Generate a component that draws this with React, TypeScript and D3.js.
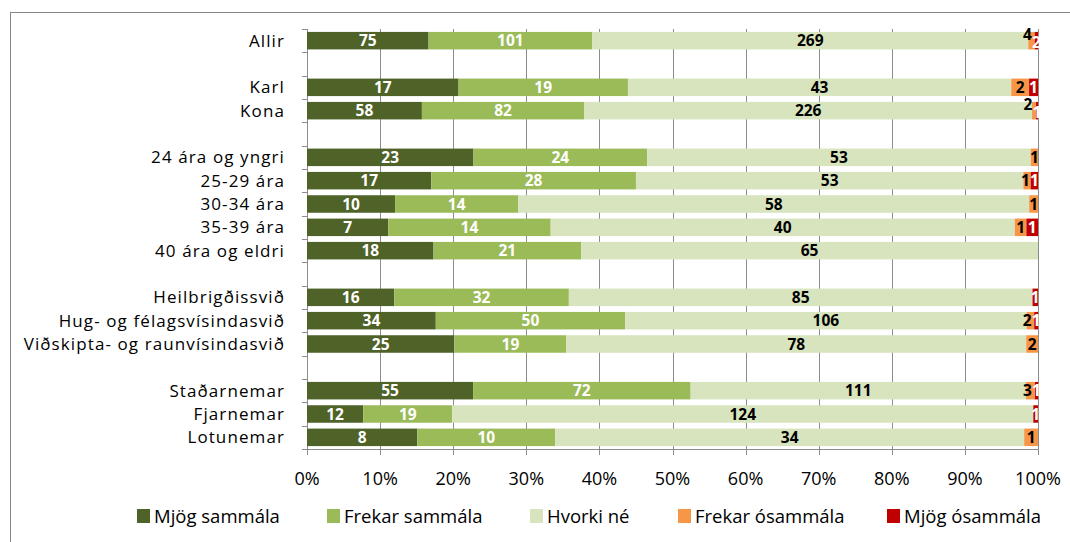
import React from 'react'
import * as d3 from 'd3'

const width = 1070
const height = 542

const categories = ['Allir', '', 'Karl', 'Kona', '', '24 ára og yngri', '25-29 ára', '30-34 ára', '35-39 ára', '40 ára og eldri', '', 'Heilbrigðissvið', 'Hug- og félagsvísindasvið', 'Viðskipta- og raunvísindasvið', '', 'Staðarnemar', 'Fjarnemar', 'Lotunemar']
const seriesNames = ['Mjög sammála', 'Frekar sammála', 'Hvorki né', 'Frekar ósammála', 'Mjög ósammála']
const mjogSammala = [75, 0, 17, 58, 0, 23, 17, 10, 7, 18, 0, 16, 34, 25, 0, 55, 12, 8]
const frekarSammala = [101, 0, 19, 82, 0, 24, 28, 14, 14, 21, 0, 32, 50, 19, 0, 72, 19, 10]
const hvorkiNe = [269, 0, 43, 226, 0, 53, 53, 58, 40, 65, 0, 85, 106, 78, 0, 111, 124, 34]
const frekarOsammala = [4, 0, 2, 2, 0, 1, 1, 1, 1, 0, 0, 0, 2, 2, 0, 3, 0, 1]
const mjogOsammala = [2, 0, 1, 1, 0, 0, 1, 0, 1, 0, 0, 1, 1, 0, 0, 1, 1, 0]
const tickLabels = ['0%', '10%', '20%', '30%', '40%', '50%', '60%', '70%', '80%', '90%', '100%']

const colors = ['#4f6228', '#9bbb59', '#d7e4bd', '#f79646', '#c00000']
const labelColors = ['#ffffff', '#ffffff', '#000000', '#000000', '#ffffff']
const font = '"Open Sans", Calibri, sans-serif'
const gridColor = '#8c8c8c'

const seriesValues = [mjogSammala, frekarSammala, hvorkiNe, frekarOsammala, mjogOsammala]

const rows = categories.map((c, i) => {
  const row: any = { index: i }
  seriesNames.forEach((s, k) => { row[s] = seriesValues[k][i] })
  row.total = d3.sum(seriesValues, v => v[i])
  return row
})

export default function App() {
  const x = d3.scaleLinear().domain([0, 1]).range([307, 1038])
  const y = d3.scaleBand<number>().domain(d3.range(categories.length)).range([29, 449])
    .paddingInner(0.25).paddingOuter(0.125)
  const step = y.step()
  const y0 = 29

  const stack = d3.stack<any>().keys(seriesNames)
    .value((d, key) => d.total ? d[key] / d.total : 0)
  const stacked = stack(rows)

  const ticks = d3.range(0, 1.0001, 0.1)

  // labels sit in the middle of their segment; tiny end segments get nudged apart
  const labels: any[] = []
  rows.forEach((r, i) => {
    if (!r.total) return
    const items: any[] = []
    stacked.forEach((s, k) => {
      const v = seriesValues[k][i]
      if (!v) return
      const seg = s[i]
      items.push({ k, v, cx: (x(seg[0]) + x(seg[1])) / 2, w: x(seg[1]) - x(seg[0]), dy: 0 })
    })
    const tw = (t: any) => String(t.v).length * 9
    for (let j = items.length - 1; j > 0; j--) {
      const a = items[j - 1], b = items[j]
      const gap = b.cx - tw(b) / 2 - (a.cx + tw(a) / 2)
      if (a.k >= 3 && gap < 0) {
        a.cx += gap
        if (a.w < 7) { a.dy = -6; b.dy = 2 }
      }
    }
    items.forEach(it => labels.push({ ...it, cy: y(i)! + y.bandwidth() / 2 + it.dy }))
  })

  const legendX = [137, 327, 530, 678, 887]

  return (
    <svg width={width} height={height} style={{ display: 'block', position: 'absolute', left: 0, top: 0 }}>
      <rect x={0} y={0} width={width} height={height} fill='#fff' />
      <rect x={10.5} y={12.5} width={1100} height={600} fill='none' stroke='#868686' />
      {ticks.map((t, i) => (
        <line key={i} x1={Math.round(x(t)) + 0.5} x2={Math.round(x(t)) + 0.5} y1={y0} y2={455}
          stroke={gridColor} strokeWidth={1} />
      ))}
      <line x1={307} x2={1039} y1={449.5} y2={449.5} stroke={gridColor} />
      {d3.range(categories.length + 1).map(i => (
        <line key={i} x1={302} x2={307} y1={Math.round(y0 + i * step) + 0.5} y2={Math.round(y0 + i * step) + 0.5} stroke={gridColor} />
      ))}
      {stacked.map((s, k) => (
        <g key={k} fill={colors[k]}>
          {s.map((d, i) => rows[i].total ? (
            <rect key={i} x={x(d[0])} y={y(i)} width={Math.max(0, x(d[1]) - x(d[0]))} height={y.bandwidth()} />
          ) : null)}
        </g>
      ))}
      {labels.map((l, i) => (
        <text key={i} x={l.cx} y={l.cy} dy='0.36em' textAnchor='middle' fontFamily={font}
          fontWeight='bold' fontSize={15.5} fill={labelColors[l.k]}>{l.v}</text>
      ))}
      {categories.map((c, i) => c ? (
        <text key={i} x={285} y={y(i)! + y.bandwidth() / 2} dy='0.36em' textAnchor='end'
          fontFamily={font} fontSize={17} letterSpacing={1.1} fill='#000'>{c}</text>
      ) : null)}
      {ticks.map((t, i) => (
        <text key={i} x={x(t)} y={478.5} dy='0.36em' textAnchor='middle' fontFamily={font}
          fontSize={18} fill='#000'>{tickLabels[i]}</text>
      ))}
      {seriesNames.map((s, k) => (
        <g key={k} transform={`translate(${legendX[k]},509)`}>
          <rect width={13} height={14} fill={colors[k]} />
          <text x={17} y={7} dy='0.36em' fontFamily={font} fontSize={18.5} fill='#000'>{s}</text>
        </g>
      ))}
    </svg>
  )
}
